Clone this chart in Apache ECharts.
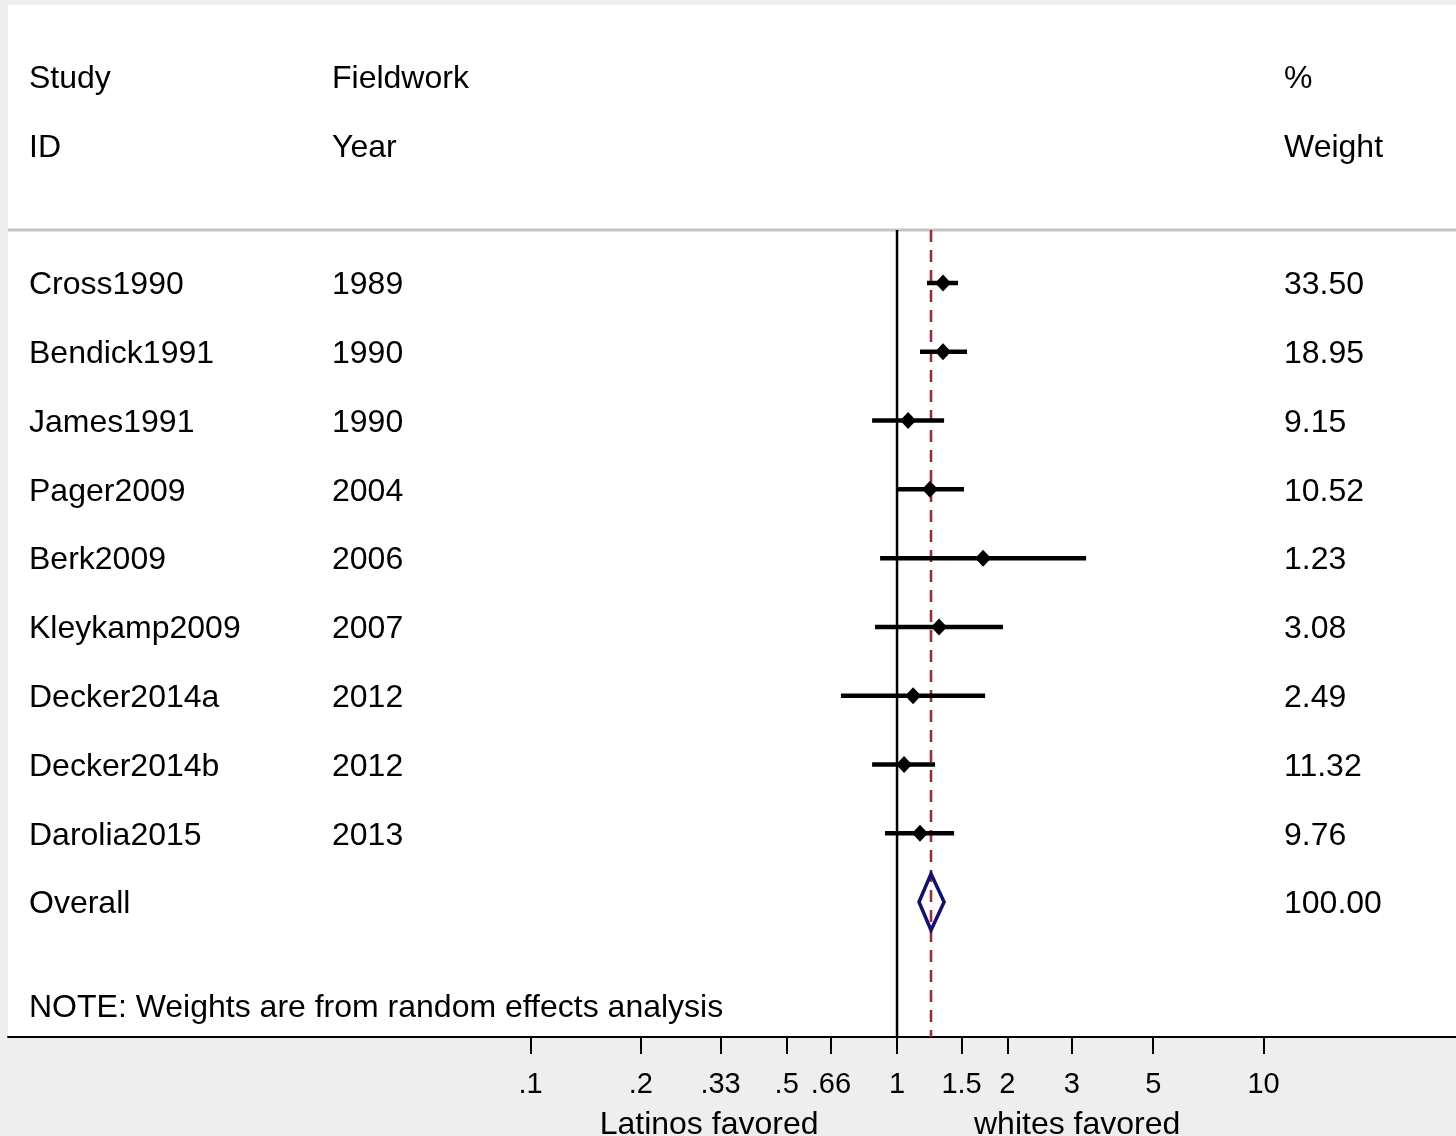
<!DOCTYPE html>
<html><head><meta charset="utf-8">
<script src="https://cdn.jsdelivr.net/npm/echarts@6/dist/echarts.min.js"></script>
<style>html,body{margin:0;padding:0;background:#eeeeee}#c{width:1456px;height:1136px}</style>
</head><body><div id="c"></div>
<script>
// ---- data ----
const studies   = ['Cross1990','Bendick1991','James1991','Pager2009','Berk2009','Kleykamp2009','Decker2014a','Decker2014b','Darolia2015'];
const years     = ['1989','1990','1990','2004','2006','2007','2012','2012','2013'];
const estimates = [1.335, 1.335, 1.072, 1.230, 1.717, 1.302, 1.106, 1.045, 1.155];
const lowerCI   = [1.207, 1.155, 0.855, 1.000, 0.899, 0.871, 0.703, 0.855, 0.927];
const upperCI   = [1.467, 1.552, 1.344, 1.523, 3.280, 1.946, 1.739, 1.270, 1.431];
const weights   = ['33.50','18.95','9.15','10.52','1.23','3.08','2.49','11.32','9.76'];
const overallLabel = 'Overall';
const overallEst = 1.238, overallLo = 1.148, overallHi = 1.344;
const overallWeight = '100.00';
const headerRow1 = ['Study','Fieldwork','%'];
const headerRow2 = ['ID','Year','Weight'];
const noteText = 'NOTE: Weights are from random effects analysis';
const tickValues = [0.1, 0.2, 0.33, 0.5, 0.66, 1, 1.5, 2, 3, 5, 10];
const tickLabels = ['.1','.2','.33','.5','.66','1','1.5','2','3','5','10'];
const sideLabels = ['Latinos favored','whites favored'];
const sideLabelValues = [0.307, 3.1];
const nullValue = 1;

// ---- layout/style ----
const FONT = '"Liberation Sans", Arial, Helvetica, sans-serif';
const xMin = 0.003753, xMax = 33.5;
const yMin = -3.042, yMax = 11.962;
const sepRow = 0.23;
const colX = [29, 332, 1284];
const textDy = 2.5;

const tableRows = [];
tableRows.push({row: -2, cells: headerRow1});
tableRows.push({row: -1, cells: headerRow2});
studies.forEach((s, i) => tableRows.push({row: i + 1, cells: [s, years[i], weights[i]]}));
tableRows.push({row: studies.length + 1, cells: [overallLabel, '', overallWeight]});
tableRows.push({row: studies.length + 2.5, cells: [noteText, '', '']});
const overallRow = studies.length + 1;

function fmtFrom(vals, labels) {
  return function (v) {
    for (let k = 0; k < vals.length; k++) {
      if (Math.abs(vals[k] - v) / vals[k] < 1e-4) return labels[k];
    }
    return '';
  };
}

const chart = echarts.init(document.getElementById('c'), null, {renderer: 'canvas'});
chart.setOption({
  backgroundColor: '#eeeeee',
  animation: false,
  grid: {left: 8, right: 0, top: 5, bottom: 99, show: true, backgroundColor: '#ffffff', borderWidth: 0, containLabel: false, outerBoundsMode: 'none'},
  xAxis: [{
    type: 'log', logBase: 10, min: xMin, max: xMax, position: 'bottom',
    axisLine: {show: true, onZero: false, lineStyle: {color: '#000', width: 2}},
    axisTick: {show: true, customValues: tickValues, length: 17, lineStyle: {color: '#000', width: 2}},
    axisLabel: {show: true, customValues: tickValues, formatter: fmtFrom(tickValues, tickLabels), margin: 33, fontSize: 29, color: '#000', fontFamily: FONT},
    splitLine: {show: false}, minorTick: {show: false}, minorSplitLine: {show: false}
  }, {
    type: 'log', logBase: 10, min: xMin, max: xMax, position: 'bottom', offset: 0,
    axisLine: {show: false}, axisTick: {show: false},
    axisLabel: {show: true, customValues: sideLabelValues, formatter: fmtFrom(sideLabelValues, sideLabels), margin: 72, fontSize: 32, color: '#000', fontFamily: FONT},
    splitLine: {show: false}
  }],
  yAxis: {type: 'value', inverse: true, min: yMin, max: yMax, show: false, splitLine: {show: false}},
  series: [
    { // separator line
      type: 'line', silent: true, symbol: 'none', z: 1,
      data: [[xMin, sepRow], [xMax, sepRow]],
      lineStyle: {color: '#c4c4c4', width: 3}
    },
    { // null line
      type: 'line', silent: true, symbol: 'none', z: 2,
      data: [[nullValue, sepRow], [nullValue, yMax]],
      lineStyle: {color: '#000', width: 2.5}
    },
    { // overall dashed line
      type: 'line', silent: true, symbol: 'none', z: 2,
      data: [[overallEst, sepRow], [overallEst, yMax]],
      lineStyle: {color: '#9a2d38', width: 2.6, type: [12, 8]}
    },
    { // CIs
      type: 'custom', z: 3, silent: true,
      data: studies.map((s, i) => [lowerCI[i], upperCI[i], i + 1]),
      encode: {x: [0, 1], y: 2},
      renderItem: function (params, api) {
        const p0 = api.coord([api.value(0), api.value(2)]);
        const p1 = api.coord([api.value(1), api.value(2)]);
        return {type: 'line', shape: {x1: p0[0], y1: p0[1], x2: p1[0], y2: p1[1]}, style: {stroke: '#000', lineWidth: 4.5}};
      }
    },
    { // estimates
      type: 'scatter', z: 4, silent: true,
      data: estimates.map((e, i) => [e, i + 1]),
      symbol: 'diamond', symbolSize: [16, 17],
      itemStyle: {color: '#000', opacity: 1}
    },
    { // overall diamond
      type: 'custom', z: 4, silent: true,
      data: [[overallLo, overallEst, overallHi, overallRow]],
      encode: {x: [0, 1, 2], y: 3},
      renderItem: function (params, api) {
        const r = api.value(3), h = 0.41;
        const pl = api.coord([api.value(0), r]);
        const pt = api.coord([api.value(1), r - h]);
        const pr = api.coord([api.value(2), r]);
        const pb = api.coord([api.value(1), r + h]);
        return {type: 'polygon', shape: {points: [pl, pt, pr, pb]}, style: {fill: 'none', stroke: '#12126e', lineWidth: 3.5, lineJoin: 'miter'}};
      }
    },
    { // table text
      type: 'custom', z: 5, silent: true,
      data: tableRows.map(r => [nullValue, r.row]),
      encode: {x: 0, y: 1},
      renderItem: function (params, api) {
        const r = tableRows[params.dataIndex];
        const y = api.coord([nullValue, r.row])[1] + textDy;
        return {
          type: 'group',
          children: r.cells.map((t, k) => ({
            type: 'text', x: colX[k], y: y,
            style: {text: t, fill: '#000', font: '32px ' + FONT, textAlign: 'left', textVerticalAlign: 'middle'}
          }))
        };
      }
    }
  ]
});
</script></body></html>
